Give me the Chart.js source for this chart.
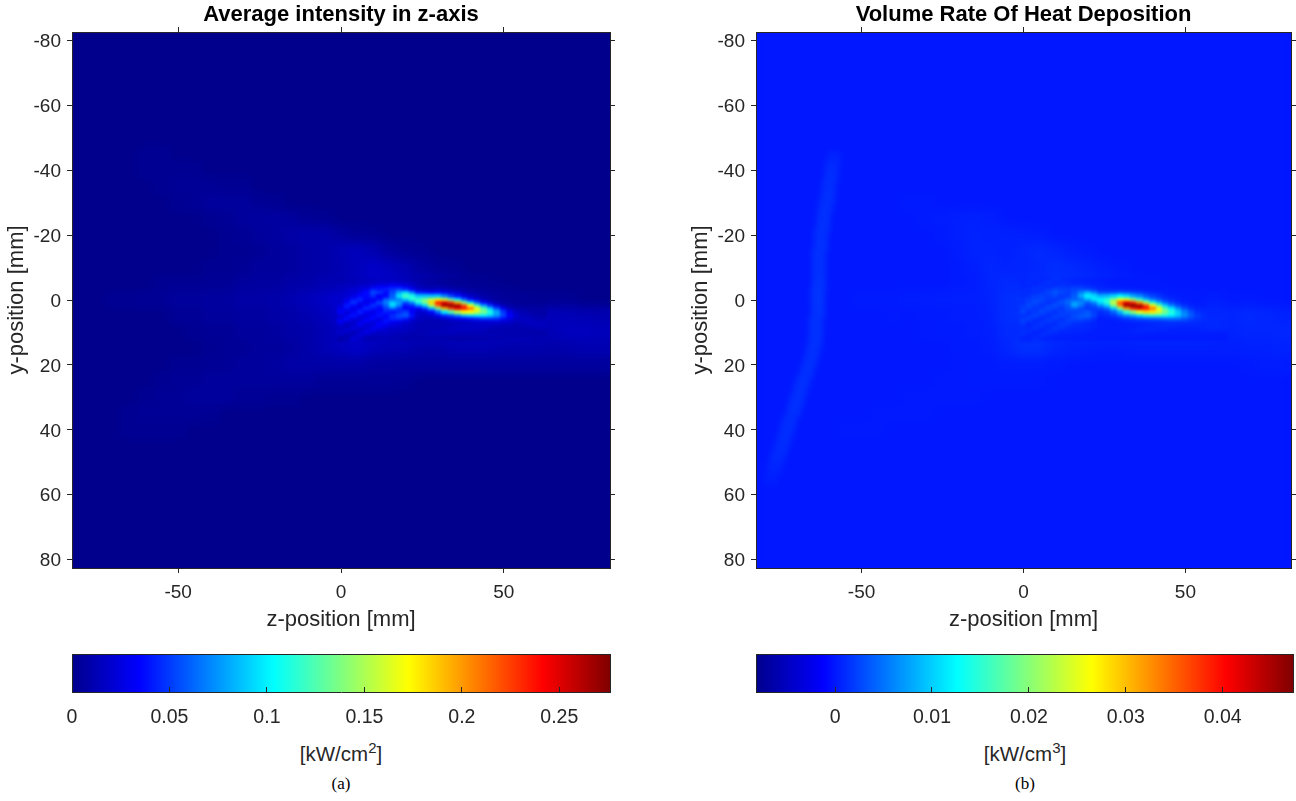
<!DOCTYPE html>
<html>
<head>
<meta charset="utf-8">
<title>Intensity and heat deposition</title>
<script src="https://cdn.jsdelivr.net/npm/chart.js@4"></script>
<style>
body{margin:0;background:#fff;overflow:hidden;}
canvas{position:absolute;}
.lab{position:absolute;text-align:center;color:#262626;font-family:"Liberation Sans",sans-serif;font-size:20.5px;line-height:22px;white-space:nowrap;}
.lab sup{font-size:15px;line-height:0;}
.cap{position:absolute;text-align:center;color:#000;font-family:"Liberation Serif",serif;font-size:17px;line-height:18px;}
</style>
</head>
<body>
<canvas id="heatA" width="648" height="640" style="left:0;top:0"></canvas>
<canvas id="heatB" width="612" height="640" style="left:684px;top:0"></canvas>
<canvas id="barA" width="648" height="96" style="left:0;top:640px"></canvas>
<canvas id="barB" width="612" height="96" style="left:684px;top:640px"></canvas>
<div class="lab" style="left:241px;width:200px;top:743px">[kW/cm<sup>2</sup>]</div>
<div class="lab" style="left:925px;width:200px;top:743px">[kW/cm<sup>3</sup>]</div>
<div class="cap" style="left:301px;width:80px;top:775px">(a)</div>
<div class="cap" style="left:985px;width:80px;top:775px">(b)</div>
<script>
const zTicks=[-50,0,50];
const yTicks=[-80,-60,-40,-20,0,20,40,60,80];
const axisMin=-82.6, axisMax=82.6;

const cbarTicksA=[0,0.05,0.1,0.15,0.2,0.25];
const cbarTicksB=[0,0.01,0.02,0.03,0.04];
const rangeA=[0,0.276];      // kW/cm2
const rangeB=[-0.00816,0.04725]; // kW/cm3

// value units in the matrices below
const unitA=0.001, unitB=0.0001;

const coarseZ=[-80,-75,-70,-65,-60,-55,-50,-45,-40,-35,-30,-25,-20,-15,-10,-5,0,5,10,15,20,25,30,35,40,45,50,55,60,65,70,75,80];
const coarseY=[-45,-40,-35,-30,-25,-20,-15,-10,-5,0,5,10,15,20,25,30,35,40,45,50,55];
const fineZ=[0,2,4,6,8,10,12,14,16,18,20,22,24,26,28,30,32,34,36,38,40,42,44,46,48,50,52,54,56,58,60,62];
const fineY=[-6,-5,-4,-3,-2,-1,0,1,2,3,4,5,6,7,8,9,10,11,12];

const intensityCoarse=[
[0,0,0,0,2,2,0,0,0,0,0,0,0,0,0,0,0,0,0,0,0,0,0,0,0,0,0,0,0,0,0,0,0],
[0,0,0,0,2,2,2,2,0,0,0,0,0,0,0,0,0,0,0,0,0,0,0,0,0,0,0,0,0,0,0,0,0],
[0,0,0,0,0,2,3,3,3,2,2,0,0,0,0,0,0,0,0,0,0,0,0,0,0,0,0,0,0,0,0,0,0],
[0,0,0,0,0,0,2,3,5,5,5,3,2,0,0,0,0,0,0,0,0,0,0,0,0,0,0,0,0,0,0,0,0],
[0,0,0,0,0,0,0,0,2,3,5,6,6,5,3,2,0,0,0,0,0,0,0,0,0,0,0,0,0,0,0,0,0],
[0,0,0,0,0,0,0,0,0,2,3,5,6,8,9,9,6,3,2,0,0,0,0,0,0,0,0,0,0,0,0,0,0],
[0,0,0,0,0,0,0,0,0,2,2,3,5,6,8,9,12,14,11,6,3,2,0,0,0,0,0,0,0,0,0,0,0],
[0,0,0,0,0,0,0,0,2,2,3,5,5,6,8,9,11,14,18,15,11,6,3,2,0,0,0,0,0,0,0,0,0],
[0,0,0,0,0,2,2,2,3,3,5,6,6,8,9,11,12,15,18,18,15,12,9,6,3,2,0,0,0,0,0,0,0],
[0,0,2,2,3,3,5,5,6,6,8,8,9,11,14,17,21,21,21,21,21,21,21,12,6,5,3,3,2,2,2,0,0],
[0,0,0,0,0,0,3,3,5,5,6,6,8,9,11,14,18,21,21,21,21,21,21,21,21,21,21,15,14,14,13,12,11],
[0,0,0,0,0,0,0,2,3,3,5,5,6,8,9,12,15,18,18,18,18,18,18,18,18,18,18,15,13,13,15,15,14],
[0,0,0,0,0,0,0,0,2,3,3,5,5,6,9,12,15,18,14,12,11,9,9,11,11,11,10,10,10,9,10,11,11],
[0,0,0,0,0,0,2,2,3,3,5,5,6,8,8,8,8,8,6,6,5,5,5,5,5,5,5,5,5,5,5,5,5],
[0,0,0,0,0,2,3,3,5,5,5,5,5,5,5,3,3,3,3,3,2,0,0,0,0,0,0,0,0,0,0,0,0],
[0,0,0,0,2,3,3,5,5,5,3,3,2,2,0,0,0,0,0,0,0,0,0,0,0,0,0,0,0,0,0,0,0],
[0,0,0,2,3,3,3,3,2,0,0,0,0,0,0,0,0,0,0,0,0,0,0,0,0,0,0,0,0,0,0,0,0],
[0,0,0,2,2,2,2,0,0,0,0,0,0,0,0,0,0,0,0,0,0,0,0,0,0,0,0,0,0,0,0,0,0],
[0,0,0,0,0,0,0,0,0,0,0,0,0,0,0,0,0,0,0,0,0,0,0,0,0,0,0,0,0,0,0,0,0],
[0,0,0,0,0,0,0,0,0,0,0,0,0,0,0,0,0,0,0,0,0,0,0,0,0,0,0,0,0,0,0,0,0],
[0,0,0,0,0,0,0,0,0,0,0,0,0,0,0,0,0,0,0,0,0,0,0,0,0,0,0,0,0,0,0,0,0]
];

const intensityFine=[
[10,12,12,14,14,15,15,15,15,14,12,10,9,7,6,5,4,3,3,3,2,2,2,1,1,1,0,0,0,0,0,0],
[12,14,14,15,17,18,21,21,23,21,18,15,11,9,8,6,5,4,3,3,3,2,2,2,1,1,1,0,0,0,0,0],
[15,15,17,20,21,27,33,33,36,36,30,21,14,11,9,9,8,6,5,5,3,3,3,2,2,2,1,1,0,0,0,0],
[15,18,21,24,30,42,39,42,48,54,45,33,20,17,16,18,15,12,10,8,6,5,4,3,3,3,2,2,1,1,1,1],
[18,20,21,27,36,55,48,36,54,80,95,70,42,38,34,36,30,24,19,12,9,7,6,5,4,3,3,3,2,2,1,1],
[18,21,27,36,36,45,33,36,60,95,120,110,88,88,86,88,70,52,40,26,17,12,8,6,5,4,3,3,3,2,2,2],
[21,27,39,45,33,30,36,60,66,70,90,115,120,136,155,175,160,128,100,62,38,25,15,9,6,5,4,3,3,3,2,2],
[18,33,48,36,27,36,54,69,90,78,56,72,110,138,185,235,250,228,195,138,95,60,34,20,10,6,5,4,3,3,3,3],
[24,42,36,24,36,48,42,60,95,70,39,46,70,95,150,215,267,276,268,222,172,122,78,48,26,13,8,6,5,5,5,5],
[27,36,27,33,45,39,33,51,63,48,33,34,32,48,84,135,192,225,247,238,210,170,126,90,56,30,15,10,8,7,7,6],
[33,24,30,42,33,27,36,42,39,45,51,33,20,22,36,62,98,125,152,172,172,156,136,110,80,50,28,16,12,10,8,8],
[21,27,39,30,24,33,39,33,45,54,60,39,18,16,18,30,44,54,70,88,96,100,100,92,76,54,34,20,14,12,10,9],
[24,36,27,21,30,36,27,36,45,48,42,27,16,14,14,16,20,26,32,36,40,45,50,50,48,38,26,18,16,15,13,11],
[33,24,18,27,33,24,30,39,33,30,24,18,14,12,12,12,13,14,15,16,18,20,22,24,24,22,20,15,15,16,15,14],
[21,15,21,30,21,24,33,30,24,21,18,15,12,12,12,12,13,14,15,16,16,17,17,17,15,14,13,12,13,14,15,15],
[15,18,24,18,21,30,27,21,18,18,16,15,12,12,12,12,13,15,16,17,17,17,15,13,12,11,11,10,10,11,12,13],
[18,21,15,18,27,24,18,18,16,16,15,13,11,12,13,14,15,15,15,15,14,13,12,11,11,11,11,11,10,10,10,10],
[18,12,15,24,21,16,15,16,15,13,12,11,11,12,13,13,13,13,12,12,13,13,13,13,12,12,11,10,10,9,9,9],
[9,12,21,18,12,12,13,13,12,12,10,10,10,10,10,10,10,10,9,9,10,10,10,11,11,11,12,12,12,12,11,11]
];

const heatCoarse=[
[0,0,0,0,0,0,0,0,0,0,0,0,0,0,0,0,0,0,0,0,0,0,0,0,0,0,0,0,0,0,0,0,0],
[0,0,0,0,0,0,0,0,0,0,0,0,0,0,0,0,0,0,0,0,0,0,0,0,0,0,0,0,0,0,0,0,0],
[0,0,0,0,0,0,0,0,0,0,0,0,0,0,0,0,0,0,0,0,0,0,0,0,0,0,0,0,0,0,0,0,0],
[0,0,0,0,0,0,0,0,0,2,2,0,0,0,0,0,0,0,0,0,0,0,0,0,0,0,0,0,0,0,0,0,0],
[0,0,0,0,0,0,0,0,0,0,2,3,4,5,4,0,0,0,0,0,0,0,0,0,0,0,0,0,0,0,0,0,0],
[0,0,0,0,0,0,0,0,0,0,0,2,4,6,5,5,4,3,0,0,0,0,0,0,0,0,0,0,0,0,0,0,0],
[0,0,0,0,0,0,0,0,0,0,0,0,3,6,6,5,7,10,7,4,2,0,0,0,0,0,0,0,0,0,0,0,0],
[0,0,0,0,0,0,0,0,0,0,0,0,2,4,8,6,7,9,12,10,7,4,2,0,0,0,0,0,0,0,0,0,0],
[0,0,0,0,0,0,0,0,0,0,0,0,2,3,7,10,9,10,12,12,10,8,5,3,2,0,0,0,0,0,0,0,0],
[0,0,0,0,0,0,2,2,2,3,3,4,4,4,6,12,14,14,14,14,14,14,14,8,4,3,2,2,1,1,1,0,0],
[0,0,0,0,0,0,0,0,1,0,2,2,3,3,5,12,14,14,14,14,14,14,14,14,14,14,14,10,7,8,10,8,6],
[0,0,0,0,0,0,0,0,0,0,1,2,2,3,4,10,10,12,12,12,12,12,12,12,12,12,12,10,8,6,8,8,8],
[0,0,0,0,0,0,0,0,0,0,0,0,2,2,3,8,14,14,8,5,4,3,3,4,4,4,4,4,4,4,5,5,6],
[0,0,0,0,0,0,0,0,0,0,0,0,1,2,2,3,3,3,2,0,0,0,0,0,0,0,0,0,0,0,2,3,3],
[0,0,0,0,0,0,0,0,0,0,0,1,1,2,2,2,2,1,0,0,0,0,0,0,0,0,0,0,0,0,0,0,0],
[0,0,0,0,0,0,0,0,0,1,1,1,1,1,0,0,0,0,0,0,0,0,0,0,0,0,0,0,0,0,0,0,0],
[0,0,0,0,0,0,0,1,1,1,1,0,0,0,0,0,0,0,0,0,0,0,0,0,0,0,0,0,0,0,0,0,0],
[0,0,0,0,0,1,1,1,0,0,0,0,0,0,0,0,0,0,0,0,0,0,0,0,0,0,0,0,0,0,0,0,0],
[0,0,0,0,0,0,0,0,0,0,0,0,0,0,0,0,0,0,0,0,0,0,0,0,0,0,0,0,0,0,0,0,0],
[0,0,0,0,0,0,0,0,0,0,0,0,0,0,0,0,0,0,0,0,0,0,0,0,0,0,0,0,0,0,0,0,0],
[0,0,0,0,0,0,0,0,0,0,0,0,0,0,0,0,0,0,0,0,0,0,0,0,0,0,0,0,0,0,0,0,0]
];

const heatFine=[
[6,8,10,8,10,14,10,8,6,6,5,4,3,2,2,1,1,1,1,1,0,0,0,0,0,0,0,0,0,0,0,0],
[8,10,7,10,14,10,12,10,9,8,6,5,4,3,2,2,1,1,1,1,1,0,0,0,0,0,0,0,0,0,0,0],
[8,8,12,14,10,14,16,14,16,16,12,8,6,4,3,2,2,2,1,1,1,1,1,0,0,0,0,0,0,0,0,0],
[10,12,14,12,18,26,22,20,26,30,26,18,10,9,8,8,6,5,4,3,3,2,2,1,1,1,0,0,1,1,1,1],
[12,10,12,18,24,34,26,20,30,58,84,60,30,28,30,38,34,26,20,12,8,5,3,2,2,1,1,1,2,2,2,1],
[10,14,20,22,20,26,18,20,38,78,118,108,84,90,105,125,108,80,62,38,24,15,8,4,3,2,2,1,2,3,3,2],
[16,20,24,26,18,16,22,36,40,48,82,114,122,145,195,260,255,205,155,94,58,34,18,10,5,3,2,2,3,3,4,3],
[12,22,28,20,14,22,32,44,70,62,38,60,110,148,235,358,418,385,322,222,146,88,44,22,10,5,3,2,3,4,5,4],
[18,26,20,14,22,30,24,36,78,52,24,34,64,100,190,330,455,472,455,368,274,182,104,60,30,13,6,4,4,5,6,5],
[20,22,16,20,28,22,18,30,40,28,18,20,26,46,100,198,322,385,418,398,338,256,172,114,66,32,14,7,6,7,7,6],
[24,14,18,26,18,14,20,24,24,28,34,20,12,18,40,85,155,205,252,285,278,240,190,144,98,58,30,14,8,8,8,7],
[14,16,24,16,12,18,22,18,28,36,40,24,7,10,18,38,64,82,108,138,150,148,138,120,96,66,38,20,11,8,8,8],
[18,22,14,10,16,20,14,20,26,30,26,14,3,4,6,12,18,26,34,38,42,46,52,54,50,38,24,15,11,9,9,8],
[22,14,10,14,18,12,16,22,18,16,12,8,3,3,3,4,6,7,9,10,12,14,16,18,18,17,14,11,9,9,9,8],
[14,8,12,16,10,12,18,16,12,10,8,6,3,3,3,3,3,4,5,6,8,9,10,10,9,8,8,8,8,9,9,8],
[10,10,14,8,10,16,14,10,8,8,7,5,3,3,3,3,4,5,7,8,9,9,8,6,5,5,5,6,7,8,8,7],
[12,12,6,8,14,12,8,8,7,7,5,4,3,3,3,4,5,6,7,7,6,5,5,4,4,4,4,4,5,5,5,5],
[12,6,6,12,10,7,6,6,5,4,3,3,3,3,3,4,4,4,4,3,3,3,3,3,3,3,3,3,3,3,3,3],
[6,6,10,8,5,4,4,4,3,3,3,3,2,2,2,2,2,2,2,2,2,2,2,2,2,2,2,2,2,2,2,2]
];

// faint curved streak on the left of panel (b)
const streakY=[-44,-41,-38,-35,-32,-29,-26,-23,-20,-17,-14,-11,-8,-5,-2,1,4,7,10,13,16,19,22,25,28,31,34,37,40,43,46,49,52,55];
const streakZ=[-58.5,-59,-59.5,-60,-60.5,-61,-61.5,-62,-62.5,-62.5,-63,-63,-63,-63,-63.5,-63.5,-63.5,-64,-64,-64.5,-65,-66,-67,-68,-69,-70,-71,-72,-73,-74,-75,-76,-77,-78];
const streakV=[6,10,12,12,13,13,13,13,14,14,14,14,14,15,16,16,15,14,14,14,13,13,13,13,13,13,13,12,12,12,11,10,7,4];

const jetStops=[[0,"rgb(0,0,140)"],[0.125,"rgb(0,0,255)"],[0.375,"rgb(0,255,255)"],[0.625,"rgb(255,255,0)"],[0.875,"rgb(255,0,0)"],[1,"rgb(128,0,0)"]];

const inkColor="#262626";
const sansFont="'Liberation Sans', sans-serif";

function jet(f){
f=Math.max(0,Math.min(1,f));
const stops=[[0,0,0,140],[0.125,0,0,255],[0.375,0,255,255],[0.625,255,255,0],[0.875,255,0,0],[1,128,0,0]];
let i=0;
while(i<stops.length-2 && f>stops[i+1][0]) i++;
const a=stops[i],b=stops[i+1],t=(f-a[0])/(b[0]-a[0]);
return "rgb("+[1,2,3].map(k=>Math.round(a[k]+(b[k]-a[k])*t)).join(",")+")";
}

// rectangular cell, used as a point style because "rect" is always square
const cellCache={};
function cellImage(w,h,color){
const key=w+"x"+h+color;
if(!cellCache[key]){
const c=document.createElement("canvas");
c.width=w;c.height=h;
const g=c.getContext("2d");
g.fillStyle=color;
g.fillRect(0,0,w,h);
cellCache[key]=c;
}
return cellCache[key];
}

function cellsFrom(zs,ys,rows,unit){
const pts=[];
rows.forEach((row,j)=>row.forEach((v,i)=>{
if(v) pts.push({x:zs[i],y:ys[j],v:v*unit});
}));
return pts;
}

const softenPlugin={
id:"soften",
beforeDatasetsDraw(chart){
const a=chart.chartArea,o=chart.options.plugins.soften;
chart.ctx.fillStyle=o.base;
chart.ctx.fillRect(a.left,a.top,a.width,a.height);
},
afterDatasetDraw(chart,args){
const set=chart.data.datasets[args.index];
const a=chart.chartArea,ctx=chart.ctx;
ctx.save();
ctx.beginPath();
ctx.rect(a.left,a.top,a.width,a.height);
ctx.clip();
ctx.filter="blur("+set.blurPx+"px)";
ctx.drawImage(chart.canvas,a.left,a.top,a.width,a.height,a.left,a.top,a.width,a.height);
ctx.restore();
}
};

function fixedTicks(list){
return s=>{s.ticks=list.map(v=>({value:v}));};
}

function heatChart(id,title,range,coarseRows,fineRows,streak,unit,rightWidth){
const color=ctx=>jet((ctx.raw.v-range[0])/(range[1]-range[0]));
const style=(stepZ,stepY)=>ctx=>{
if(!ctx.raw) return "rect";
const sx=ctx.chart.scales.x,sy=ctx.chart.scales.y;
const w=Math.ceil(Math.abs(sx.getPixelForValue(stepZ)-sx.getPixelForValue(0)))+1;
const h=Math.ceil(Math.abs(sy.getPixelForValue(stepY)-sy.getPixelForValue(0)))+1;
return cellImage(w,h,color(ctx));
};
const sets=[
{data:cellsFrom(fineZ,fineY,fineRows,unit),order:1,blurPx:1.5,pointStyle:style(2,1),pointRadius:1},
{data:cellsFrom(coarseZ,coarseY,coarseRows,unit),order:3,blurPx:5,pointStyle:style(5,5),pointRadius:1}
];
if(streak.length) sets.push({data:streak,order:2,blurPx:2.5,pointStyle:style(4,3.5),pointRadius:1});
const tickGrid={drawOnChartArea:false,tickLength:5,tickColor:inkColor,tickWidth:1,z:1};
const edge={color:inkColor,width:1,z:1};
const tickFont={family:sansFont,size:19};
return new Chart(document.getElementById(id),{
type:"scatter",
plugins:[softenPlugin],
data:{datasets:sets},
options:{
responsive:false,
animation:false,
events:[],
layout:{padding:0},
plugins:{
legend:{display:false},
tooltip:{enabled:false},
soften:{base:jet((0-range[0])/(range[1]-range[0]))},
title:{display:true,text:title,color:"#000",fullSize:false,font:{family:sansFont,size:22,weight:"bold",lineHeight:1},padding:{top:4,bottom:0}}
},
scales:{
x:{type:"linear",position:"bottom",min:axisMin,max:axisMax,
afterBuildTicks:fixedTicks(zTicks),afterFit:s=>{s.height=72;},
grid:tickGrid,border:edge,
ticks:{color:inkColor,font:tickFont,padding:8,maxRotation:0,callback:v=>String(v)},
title:{display:true,text:"z-position [mm]",color:inkColor,font:{family:sansFont,size:22},padding:{bottom:7}}},
y:{type:"linear",position:"left",reverse:true,min:axisMin,max:axisMax,
afterBuildTicks:fixedTicks(yTicks),afterFit:s=>{s.width=72;},
grid:tickGrid,border:edge,
ticks:{color:inkColor,font:tickFont,padding:6,labelOffset:1.5,callback:v=>String(v)},
title:{display:true,text:"y-position [mm]",color:inkColor,font:{family:sansFont,size:22},padding:{bottom:6}}},
x2:{type:"linear",axis:"x",position:"top",min:axisMin,max:axisMax,
afterBuildTicks:fixedTicks(zTicks),afterFit:s=>{s.height=6;},
grid:tickGrid,border:edge,ticks:{display:false}},
y2:{type:"linear",axis:"y",position:"right",reverse:true,min:axisMin,max:axisMax,
afterBuildTicks:fixedTicks(yTicks),afterFit:s=>{s.width=rightWidth;},
grid:tickGrid,border:edge,ticks:{display:false}}
}
}
});
}

function colorBar(id,range,ticks,rightWidth){
const edge={color:inkColor,width:1,z:1};
const noGrid={drawOnChartArea:false,drawTicks:false};
return new Chart(document.getElementById(id),{
type:"bar",
data:{labels:[""],datasets:[{
data:[range],
barPercentage:1,
categoryPercentage:1,
backgroundColor:ctx=>{
const a=ctx.chart.chartArea;
if(!a) return jetStops[0][1];
const g=ctx.chart.ctx.createLinearGradient(a.left,0,a.right,0);
jetStops.forEach(s=>g.addColorStop(s[0],s[1]));
return g;
}
}]},
options:{
indexAxis:"y",
responsive:false,
animation:false,
events:[],
plugins:{legend:{display:false},tooltip:{enabled:false}},
scales:{
x:{type:"linear",position:"bottom",min:range[0],max:range[1],
afterBuildTicks:fixedTicks(ticks),afterFit:s=>{s.height=44;},
grid:{drawOnChartArea:false,tickLength:-5,tickColor:inkColor,z:1},border:edge,
ticks:{color:inkColor,font:{family:sansFont,size:19.5},padding:19,maxRotation:0,callback:v=>String(v)}},
y:{type:"category",position:"left",afterFit:s=>{s.width=72;},
grid:noGrid,border:edge,ticks:{display:false}},
x2:{type:"linear",axis:"x",position:"top",min:range[0],max:range[1],
afterBuildTicks:s=>{s.ticks=[];},afterFit:s=>{s.height=14;},
grid:noGrid,border:edge,ticks:{display:false}},
y2:{type:"linear",axis:"y",position:"right",min:0,max:1,
afterBuildTicks:s=>{s.ticks=[];},afterFit:s=>{s.width=rightWidth;},
grid:noGrid,border:edge,ticks:{display:false}}
}
}
});
}

const streakCells=streakY.map((y,i)=>({x:streakZ[i],y:y,v:streakV[i]*unitB}));

heatChart("heatA","Average intensity in z-axis",rangeA,intensityCoarse,intensityFine,[],unitA,38);
heatChart("heatB","Volume Rate Of Heat Deposition",rangeB,heatCoarse,heatFine,streakCells,unitB,3);
colorBar("barA",rangeA,cbarTicksA,38);
colorBar("barB",rangeB,cbarTicksB,3);
</script>
</body>
</html>
